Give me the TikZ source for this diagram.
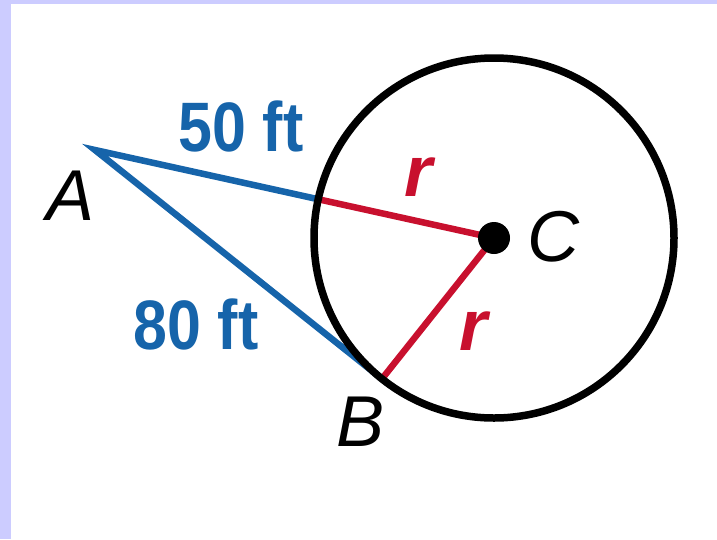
\documentclass[tikz,border=0pt]{standalone}
\usepackage{fontspec}
\setmainfont{Liberation Sans}
\usetikzlibrary{calc}
\definecolor{lineblue}{RGB}{22,100,170}
\definecolor{radred}{RGB}{200,16,46}
\definecolor{edge}{RGB}{204,204,255}
\tikzset{
  seg/.style={line width=6.5pt,line cap=round},
  lenlabel/.style={text=lineblue,font=\fontsize{70}{70}\selectfont\bfseries,xscale=0.87},
  radlabel/.style={text=radred,font=\fontsize{72}{72}\selectfont\bfseries\itshape},
  ptlabel/.style={font=\fontsize{72}{72}\selectfont\itshape}
}
\begin{document}
\begin{tikzpicture}[x=1pt,y=-1pt]
	\useasboundingbox (0,0) rectangle (717,539);
	\fill[edge] (0,0) rectangle (717,4);
	\fill[edge] (0,0) rectangle (11,539);
	\coordinate (C) at (494,238);
	\coordinate (A) at (95,150);
	\coordinate (D) at ($(C)!180pt!(A)$);
	\coordinate (B) at ($(C)+(128.5:180)$);
	\draw[seg,lineblue] (D) -- (A) -- (B);
	\draw[seg,radred,line cap=butt] (D) -- (C);
	\draw[seg,radred,line cap=butt] (B) -- (C);
	\draw[line width=7.5pt] (C) circle (180);
	\fill (C) circle (16);
	\node[lenlabel] (lab50) at (241,126) {50 ft};
	\node[lenlabel] (lab80) at (196,324) {80 ft};
	\node[radlabel] (r1) at (419,177) {r};
	\node[radlabel] (r2) at (474,331) {r};
	\node[ptlabel] (labA) at (71,196) {A};
	\node[ptlabel] (labB) at (361,422) {B};
	\node[ptlabel] (labC) at (553,237) {C};
\end{tikzpicture}
\end{document}
